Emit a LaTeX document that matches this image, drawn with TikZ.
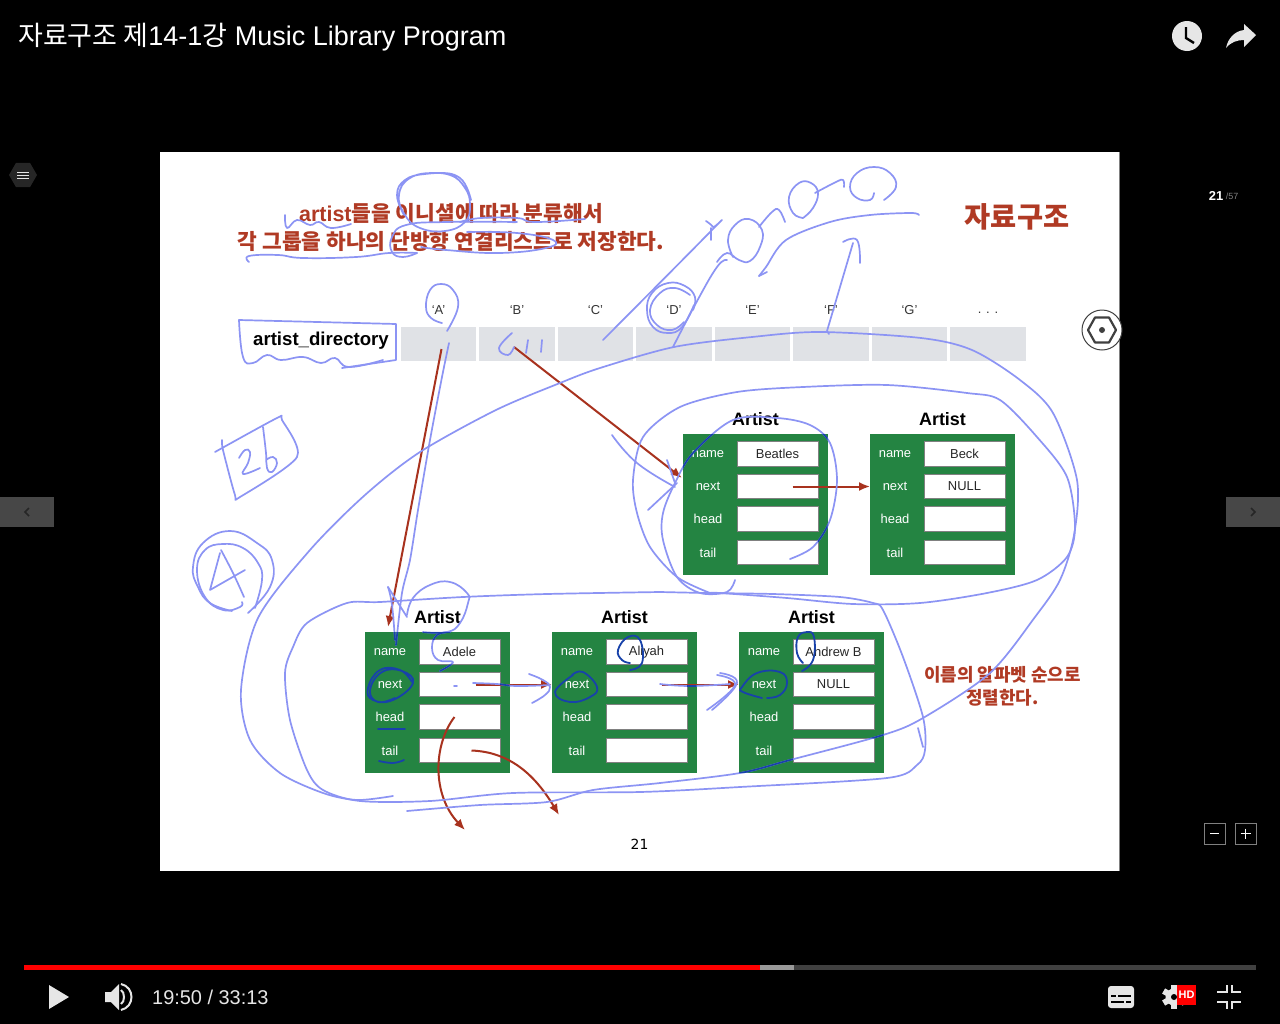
\documentclass[tikz,border=0pt]{standalone}
\usepackage{fontspec}
\setmainfont{Liberation Sans}
\newfontfamily\krfont{Noto Sans CJK KR}
\newfontfamily\dejafont{DejaVu Sans}
\usetikzlibrary{arrows.meta,shapes.geometric}
\definecolor{slidered}{RGB}{176,58,36}
\definecolor{linered}{RGB}{168,50,30}
\definecolor{boxgreen}{RGB}{36,132,66}
\definecolor{cellgray}{RGB}{224,226,230}
\definecolor{inkblue}{RGB}{140,148,244}
\definecolor{inkdark}{RGB}{24,66,170}
\definecolor{iconlight}{RGB}{230,230,230}
\colorlet{inkcolor}{inkblue}
\newcommand{\px}[1]{\fontsize{#1}{#1}\selectfont}
\newcommand{\artistbox}[5]{
  \node[artistframe] (#1) at (#2+72.5,#3+70.5) {};
  \node[artisttitle] (#1Title) at (#2+72.5,#3-15) {Artist};
  \foreach \lab/\fld/\ry in {name/Name/20,next/Next/52.5,head/Head/85,tail/Tail/118.5} {
    \node[fieldlabel] (#1\fld Label) at (#2+25,#3+\ry) {\lab};
    \node[fieldbox] (#1\fld) at (#2+94.5,#3+\ry) {};
  }
  \node[fieldtext] (#1NameText) at (#1Name) {#4};
  \node[fieldtext] (#1NextText) at (#1Next) {#5};
}
\newcommand{\inkstroke}[2][0.75]{\draw[inkline] plot[smooth,tension=#1] coordinates {#2};}
\newcommand{\inkstrokes}{
  \inkstroke{(404,215)(397,195)(405,180)(425,174)(450,175)(465,188)(470,205)(465,222)(445,231)(420,228)(405,215)(399,195)(410,178)(435,173)(460,178)(471,200)}
  \inkstroke{(285,215)(287,228)(297,220)(310,225)(319,222)(331,228)(351,224)}
  \inkstroke{(460,222)(481,218)(517,218)(535,222)(585,219)}
  \inkstroke{(249,262)(249,256)(278,255)(303,258)(356,257)(389,253)(417,253)}
  \inkstroke{(417,253)(403,257)(392,252)(392,237)(406,225)(446,222)(517,222)}
  \inkstroke{(421,247)(446,250)(499,253)(546,248)(553,240)(517,233)(467,232)}
  \inkstroke{(447,331)(458,307)(453,290)(441,284)(430,290)(426,307)(431,318)(442,323)}
  \draw[inkline] (239,320) -- (396,324) -- (396,360) -- (342,368);
  \inkstroke{(239,320)(243,357)(253,363)(267,355)(281,360)(303,357)(321,363)(335,358)(349,367)(383,360)}
  \inkstroke[0.5]{(449,343)(442,377)(430,440)(418,510)(410,560)(402,593)(396,645)}
  \inkstroke{(388,587)(392,605)(395,640)}
  \inkstroke{(388,587)(407,617)}
  \inkstroke{(407,615)(413,598)(430,585)(450,582)(467,593)(468,603)(460,623)(447,632)(423,632)}
  \inkstroke{(450,632)(437,635)(432,648)(438,660)(453,662)(440,671)}
  \inkstroke{(512,333)(499,348)(508,355)(514,347)}
  \inkstroke{(528,340)(526,353)}
  \inkstroke{(542,340)(541,352)}
  \inkstroke{(603,340)(711,231)(713,227)(706,221)}
  \inkstroke{(711,228)(711,240)}
  \inkstroke{(693,310)(695,297)(685,286)(668,283)(652,293)(647,310)(653,327)(668,333)(682,327)(694,305)}
  \inkstroke{(690,295)(675,288)(660,293)(650,310)(657,325)(672,330)(684,322)}
  \inkstroke{(673,347)(696,303)(717,267)(727,260)}
  \inkstroke{(717,262)(727,253)(739,260)(750,261)(760,247)(762,230)(749,219)(735,225)(728,240)(733,257)}
  \inkstroke{(759,227)(772,212)(779,210)(785,222)}
  \inkstroke{(803,218)(793,213)(789,197)(799,183)(811,183)(818,193)(813,208)(803,218)}
  \inkstroke{(815,193)(836,182)(843,180)(844,187)}
  \inkstroke{(884,200)(896,187)(890,173)(874,167)(857,173)(850,187)(857,198)(870,200)(874,193)}
  \inkstroke[0.55]{(919,215)(911,213)(870,215)(830,222)(786,240)(766,267)(759,276)}
  \draw[inkline] (759,276) -- (767,272);
  \draw[inkline] (829,334) -- (827,331) -- (853,243);
  \inkstroke{(843,242)(857,240)(860,263)}
  \inkstroke[0.5]{(407,811)(480,805)(547,802)(593,790)(660,783)(740,773)(790,760)(883,735)(923,718)(990,673)(1035,617)(1060,580)(1074,535)(1077,480)(1053,413)(1020,380)(972,350)(921,338)(820,332)(752,337)(674,347)(600,368)(560,383)(496,410)(420,452)(365,495)(310,550)(258,618)(241,690)(250,740)(280,773)(323,793)(357,800)(393,796)}
  \inkstroke[0.5]{(660,592)(547,594)(463,597)(380,602)(347,603)(307,623)(293,647)(285,673)(290,720)(307,770)(323,790)(360,801)(430,801)(513,793)(640,792)(740,787)(887,778)(917,765)(925,750)(923,717)(903,657)(883,610)(873,603)(840,597)(773,594)(707,593)(660,592)}
  \draw[inkline] (918,728) -- (923,747);
  \inkstroke[0.5]{(710,593)(677,577)(650,547)(637,513)(633,480)(643,437)(680,407)(737,392)(803,387)(887,385)(967,393)(1000,400)(1037,437)(1067,477)(1075,527)(1067,557)(1037,580)(987,593)(920,603)(853,604)(787,598)(720,593)(710,593)}
  \inkstroke[0.55]{(735,580)(727,592)(700,593)(677,577)(663,540)(663,513)(675,483)(693,453)(733,420)(777,418)(810,425)(830,443)(837,480)(830,520)(813,547)(790,559)}
  \inkstroke{(612,435)(637,463)(675,487)}
  \draw[inkline] (648,510) -- (677,483);
  \draw[inkline] (667,460) -- (675,483);
  \inkstroke{(473,683)(497,684)(517,686)(550,685)}
  \draw[inkline] (454,686) -- (457,686);
  \inkstroke{(529,674)(543,680)(550,687)(545,695)(532,703)}
  \inkstroke{(660,684)(690,686)(730,684)}
  \inkstroke{(717,675)(735,685)(707,710)}
  \inkstroke{(720,673)(737,683)(712,710)}
  \inkstroke[0.45]{(215,452)(277,418)(282,420)(297,457)(240,497)(235,495)(223,450)(222,440)}
  \inkstroke{(239,458)(245,450)(250,452)(248,463)(243,474)(260,468)}
  \inkstroke{(263,427)(266,453)(267,468)(272,472)(277,463)(273,457)(266,460)}
  \inkstroke{(232,611)(210,603)(198,587)(193,567)(203,543)(230,531)(257,543)(272,560)(270,587)(248,613)}
  \inkstroke{(242,602)(240,607)(223,610)(205,597)(197,570)(205,550)(223,544)(243,548)(258,563)(262,580)(255,608)}
  \draw[inkline] (220,553) -- (210,590) -- (245,570);
  \inkstroke{(221,550)(233,573)(244,597)}
}
\begin{document}
\begin{tikzpicture}[x=1bp,y=-1bp,
    artistframe/.style={fill=boxgreen, minimum width=144.5bp, minimum height=141bp, inner sep=0pt},
    artisttitle/.style={font=\px{18}\bfseries, text=black, inner sep=0pt},
    fieldlabel/.style={font=\px{13}, text=white, inner sep=0pt},
    fieldbox/.style={fill=white, draw=gray, line width=1bp, minimum width=81bp, minimum height=24.5bp, inner sep=0pt},
    fieldtext/.style={font=\px{13}, text=black!85, inner sep=0pt},
    dircell/.style={fill=cellgray, minimum width=75.5bp, minimum height=34bp, inner sep=0pt},
    dirlabel/.style={font=\px{13}, text=black!80, inner sep=0pt},
    redline/.style={draw=linered, line width=2bp, -{Latex[length=11bp,width=9bp]}},
    redtext/.style={font=\krfont\bfseries\px{#1}, text=slidered, inner sep=0pt, align=center},
    inkline/.style={draw=inkcolor, line width=1.7bp, line cap=round, line join=round},
    iconfill/.style={fill=iconlight, draw=none},
    iconline/.style={draw=iconlight, line width=2.5bp}]
  \useasboundingbox (0,0) rectangle (1280,1024);
  \fill[black] (0,0) rectangle (1280,1024);
  \node[font=\px{27.1}, text=white, anchor=west, inner sep=0pt] (videoTitle) at (18,37) {{\krfont 자료구조 제}14-1{\krfont 강} Music Library Program};
  \fill[white] (160,152) rectangle (1119,871);
  \draw[gray, line width=0.8bp] (1119.4,152) -- (1119.4,871);
  \node[redtext=21.5] (slideHeading) at (451,227.5) {{\rmfamily\bfseries artist}들을 이니셜에 따라 분류해서\\[6bp]각 그룹을 하나의 단방향 연결리스트로 저장한다.};
  \node[redtext=28.5] (courseName) at (1017,217) {자료구조};
  \node[font=\px{18.7}\bfseries, inner sep=0pt] (dirName) at (321,341) {artist\_directory};
  \foreach \letter/\cx in {A/438.5,B/517,C/595.5,D/674,E/752.5,F/831,G/909.5} {
    \node[dircell] (dir\letter) at (\cx,344) {};
    \node[dirlabel] (dirLabel\letter) at (\cx,310) {‘\letter’};
  }
  \node[dircell] (dirMore) at (988,344) {};
  \node[dirlabel] (dirLabelMore) at (988,313) {. . .};
  \artistbox{beatles}{683}{434}{Beatles}{}
  \artistbox{beck}{870}{434}{Beck}{NULL}
  \artistbox{adele}{365}{632}{Adele}{}
  \artistbox{aliyah}{552}{632}{Aliyah}{}
  \artistbox{andrew}{739}{632}{Andrew B}{NULL}
  \node[redtext=18] (sortNote) at (1002.5,686.5) {이름의 알파벳 순으로\\[5bp]정렬한다.};
  \node[font=\dejafont\px{14}, inner sep=0pt] (pageNumber) at (639.5,844) {21};
  \coordinate (adeleIn) at (388,627);
  \coordinate (beatlesIn) at (682,478);
  \coordinate (headEnd) at (465,830);
  \coordinate (tailEnd) at (559,815);
  \draw[redline] ([shift={(3,5)}]dirA.center) -- (adeleIn);
  \draw[redline] ([shift={(-3,3)}]dirB.center) -- (beatlesIn);
  \draw[redline] ([xshift=15bp]beatlesNext.center) -- (beck.west |- beatlesNext);
  \draw[redline] ([xshift=16bp]adeleNext.center) -- (aliyah.west |- adeleNext);
  \draw[redline] ([xshift=15bp]aliyahNext.center) -- (andrew.west |- aliyahNext);
  \draw[redline] ([xshift=-5bp]adeleHead.center) .. controls (433,745) and (432,795) .. (headEnd);
  \draw[redline] ([xshift=12bp]adeleTail.center) .. controls (510,752) and (535,775) .. (tailEnd);
  \inkstrokes
  \begin{scope}[even odd rule]
    \clip \foreach \bx/\by in {683/434,870/434,365/632,552/632,739/632} {
      (\bx,\by) rectangle (\bx+144.5,\by+141)
      (\bx+54,\by+7.75) rectangle (\bx+135,\by+32.25)
      (\bx+54,\by+40.25) rectangle (\bx+135,\by+64.75)
      (\bx+54,\by+72.75) rectangle (\bx+135,\by+97.25)
      (\bx+54,\by+106.25) rectangle (\bx+135,\by+130.75)
    };
    \colorlet{inkcolor}{inkdark}
    \inkstrokes
  \end{scope}
  \begin{scope}
    \colorlet{inkcolor}{inkdark}
    \tikzset{inkline/.append style={line width=1.8bp}}
    \inkstroke{(412,682)(400,670)(380,670)(368,688)(373,700)(393,700)(413,683)(402,671)(382,672)(370,690)(378,702)(395,698)}
    \inkstroke{(378,729)(405,729)}
    \inkstroke{(379,761)(393,763)(404,760)}
    \inkstroke{(573,675)(555,692)(570,702)(590,697)(597,687)(583,672)(572,675)}
    \inkstroke{(762,698)(743,692)(742,687)(757,673)(780,672)(787,683)(780,695)(767,698)}
    \inkstroke{(630,670)(642,663)(640,640)(628,637)(618,650)(622,660)(630,663)}
    \inkstroke{(802,671)(813,660)(814,637)(807,632)(798,637)(797,653)(803,663)}
  \end{scope}
  \node[circle, fill=white, draw=black!75, line width=1bp, minimum size=40bp, inner sep=0pt] (hexButton) at (1102,330) {};
  \draw[draw=black!75, line width=2.2bp, line join=round] (1088,330) -- (1095,317.5) -- (1109,317.5) -- (1116,330) -- (1109,342.5) -- (1095,342.5) -- cycle;
  \node[circle, fill=black!75, minimum size=6bp, inner sep=0pt] (hexDot) at (1102,330) {};
  \node[regular polygon, regular polygon sides=6, fill=black!85, minimum size=28bp, inner sep=0pt] (menuButton) at (23,175) {};
  \foreach \my in {172,175,178} \draw[iconlight, line width=1bp] (17,\my) -- (29,\my);
  \fill[black!72] (0,497) rectangle (54,527);
  \fill[black!72] (1226,497) rectangle (1280,527);
  \draw[black!85, line width=1.5bp] (29,508) -- (25,512) -- (29,516);
  \draw[black!85, line width=1.5bp] (1251,508) -- (1255,512) -- (1251,516);
  \node[font=\px{13}\bfseries, text=white, inner sep=0pt] (slideNow) at (1216,195.5) {21};
  \node[font=\px{9}, text=gray, inner sep=0pt] (slideAll) at (1232,196.5) {/57};
  \node[circle, iconfill, minimum size=30bp, inner sep=0pt] (clockIcon) at (1187,36) {};
  \draw[black, line width=2.4bp] (1186,27) -- (1186,38) -- (1194,43);
  \fill[iconlight] (1256,35) -- (1244,24) -- (1244,30) .. controls (1235,31) and (1228,38) .. (1226,48) .. controls (1231,42) and (1237,40) .. (1244,40) -- (1244,47) -- cycle;
  \draw[draw=gray, line width=1bp] (1204,823) rectangle (1225,844);
  \draw[draw=gray, line width=1bp] (1235,823) rectangle (1256,844);
  \draw[white, line width=1.5bp] (1210,833.5) -- (1219,833.5);
  \draw[white, line width=1.5bp] (1240.5,833.5) -- (1250.5,833.5);
  \draw[white, line width=1.5bp] (1245.5,828.5) -- (1245.5,838.5);
  \fill[black!75] (24,965) rectangle (1256,970);
  \fill[black!40] (24,965) rectangle (794,970);
  \fill[red] (24,965) rectangle (760,970);
  \fill[iconlight] (49,985) -- (69,997) -- (49,1009) -- cycle;
  \fill[iconlight] (105,992) -- (111,992) -- (119,984) -- (119,1010) -- (111,1002) -- (105,1002) -- cycle;
  \draw[iconlight, line width=2bp] (121,990) .. controls (125,992) and (125,1002) .. (121,1004);
  \draw[iconlight, line width=2bp] (121,984) .. controls (135,987) and (135,1007) .. (121,1010);
  \node[font=\px{20}, text=iconlight, anchor=west, inner sep=0pt] (timeLabel) at (152,997) {19:50 / 33:13};
  \fill[iconlight, rounded corners=3bp] (1108,986) rectangle (1134,1008);
  \draw[black, line width=1.8bp] (1111,996) -- (1116,996) (1118,996) -- (1131,996) (1111,1002) -- (1124,1002) (1126,1002) -- (1131,1002);
  \node[circle, iconfill, minimum size=17bp, inner sep=0pt] (gearIcon) at (1174,997) {};
  \foreach \ang in {0,60,...,300} \fill[iconlight, rotate around={\ang:(1174,997)}] (1171,985) rectangle (1177,991);
  \node[circle, fill=black, minimum size=6bp, inner sep=0pt] (gearHole) at (1174,997) {};
  \node[fill=red, minimum width=19bp, minimum height=20bp, inner sep=0pt, font=\px{11}\bfseries, text=white] (hdBadge) at (1186.5,995) {HD};
  \draw[iconline] (1217,992) -- (1227,992) -- (1227,985);
  \draw[iconline] (1232,985) -- (1232,992) -- (1241,992);
  \draw[iconline] (1217,1002) -- (1227,1002) -- (1227,1009);
  \draw[iconline] (1232,1009) -- (1232,1002) -- (1241,1002);
\end{tikzpicture}
\end{document}
